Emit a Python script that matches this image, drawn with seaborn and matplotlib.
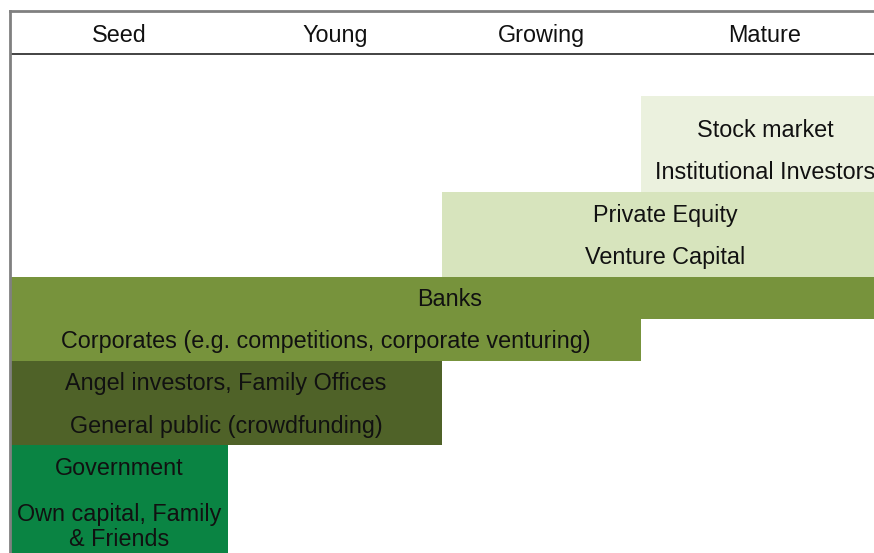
import matplotlib
matplotlib.use("Agg")
import matplotlib.pyplot as plt
import seaborn as sns

sns.set_theme(style="white")
plt.rcParams['font.family'] = ['Liberation Sans', 'DejaVu Sans']

# stages and their column edges (x units, last column runs past the frame)
stages = ['Seed', 'Young', 'Growing', 'Mature']
stage_edges = [0, 218, 432, 631, 879]

# funding sources, one text row each, listed top to bottom
sources = ['Stock market', 'Institutional Investors', 'Private Equity', 'Venture Capital',
           'Banks', 'Corporates (e.g. competitions, corporate venturing)',
           'Angel investors, Family Offices', 'General public (crowdfunding)',
           'Government', 'Own capital, Family\n& Friends']
row_pos = [0, 1, 2, 3, 4, 5, 6, 7, 8, 9.4]

# coloured blocks: first stage, last stage (exclusive), top row edge, bottom row edge
block_start = [3, 2, 0, 0, 0, 0]
block_end = [4, 4, 4, 3, 2, 1]
block_top = [-0.78, 1.5, 3.5, 4.5, 5.5, 7.5]
block_bottom = [1.5, 3.5, 4.5, 5.5, 7.5, 10.5]
block_colors = ['#EBF1DE', '#D7E4BD', '#77933C', '#77933C', '#4F6228', '#0A8443']

# which block each text row sits in
row_block = [0, 0, 1, 1, 2, 3, 4, 4, 5, 5]

FS = 16.8

fig = plt.figure(figsize=(8.74, 5.53), dpi=100)
ax = fig.add_axes([10 / 874, 0, 864 / 874, 1 - 11 / 553])

for s, e, t, b, c in zip(block_start, block_end, block_top, block_bottom, block_colors):
    x0, x1 = stage_edges[s], stage_edges[e]
    ax.barh((t + b) / 2, x1 - x0, height=b - t, left=x0, color=c, edgecolor='none', align='center')

for name, y, bi in zip(sources, row_pos, row_block):
    x0 = stage_edges[block_start[bi]]
    x1 = stage_edges[block_end[bi]]
    ax.text((x0 + x1) / 2, y + 0.04, name, ha='center', va='center', fontsize=FS,
            color='#111111', linespacing=1.1)

# header row
for i, st in enumerate(stages):
    xc = (stage_edges[i] + stage_edges[i + 1]) / 2
    ax.text(xc, -2.22, st, ha='center', va='center', fontsize=FS, color='#111111')
ax.axhline(-1.78, color='#222222', lw=1.2)

ax.set_xlim(0, 864)
ax.set_ylim(10.05, -2.80)
ax.set_xticks([])
ax.set_yticks([])
for side in ['right', 'bottom']:
    ax.spines[side].set_visible(False)
for side in ['left', 'top']:
    ax.spines[side].set_color('#808080')
    ax.spines[side].set_linewidth(2)

fig.savefig('out.png', dpi=100)
